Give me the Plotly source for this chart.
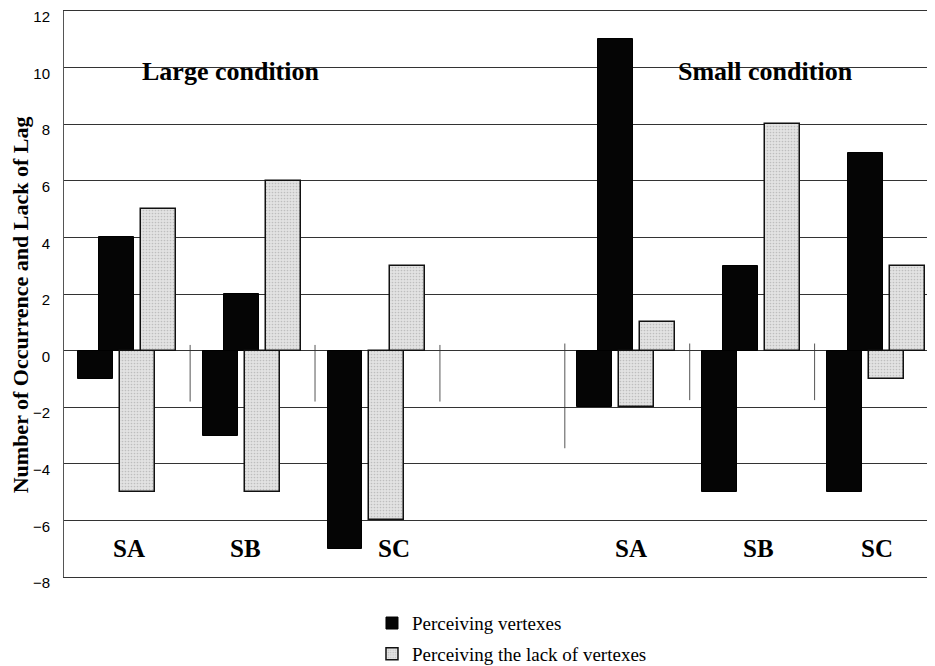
import plotly.graph_objects as go

# ---- data ----
conditions = ["Large condition", "Small condition"]
subjects = ["SA", "SB", "SC", "SA", "SB", "SC"]
group_condition = ["Large", "Large", "Large", "Small", "Small", "Small"]
vertex_neg = [-1, -3, -7, -2, -5, -5]
vertex_pos = [4, 2, 0, 11, 3, 7]
lack_neg = [-5, -5, -6, -2, 0, -1]
lack_pos = [5, 6, 3, 1, 8, 3]
y_ticks = [-8, -6, -4, -2, 0, 2, 4, 6, 8, 10, 12]
legend_names = ["Perceiving vertexes", "Perceiving the lack of vertexes"]

# ---- layout helpers ----
# group slot index (a blank slot separates the two conditions)
slots = []
for i, c in enumerate(group_condition):
    base = i if c == "Large" else i + 1
    slots.append(base)

STEP = 0.168   # offset between the overlapping bars
W = 0.28       # bar width


def bar_xy(neg, pos, first_off):
    xs, ys = [], []
    for k in range(len(slots)):
        if neg[k] != 0:
            xs.append(slots[k] + first_off + W / 2)
            ys.append(neg[k])
        if pos[k] != 0:
            xs.append(slots[k] + first_off + STEP + W / 2)
            ys.append(pos[k])
    return xs, ys


fig = go.Figure()

bx, by = bar_xy(vertex_neg, vertex_pos, 0.0)
fig.add_trace(go.Bar(
    x=bx, y=by, width=W, name=legend_names[0], legendgroup="a",
    marker=dict(color="#050505", line=dict(color="#000000", width=1)),
))
gx, gy = bar_xy(lack_neg, lack_pos, 2 * STEP)
fig.add_trace(go.Bar(
    x=gx, y=gy, width=W, name=legend_names[1], legendgroup="b",
    marker=dict(
        color="#dcdcdc",
        line=dict(color="#111111", width=1.5),
        pattern=dict(shape=".", fgcolor="#9a9a9a", bgcolor="#e2e2e2", size=3, solidity=0.25),
    ),
))

# separator marks between groups
sep_extent = [(0.2, -1.8), (0.2, -1.8), (0.2, -1.8), (0.25, -3.45), (0.25, -1.75), (0.25, -1.75)]
for j, (y0, y1) in enumerate(sep_extent):
    xs = j + 0.9
    fig.add_shape(type="line", xref="x", yref="y", x0=xs, x1=xs, y0=y0, y1=y1,
                  line=dict(color="#555555", width=1), layer="below")

# subject labels
label_dx = [2, -6, 18, 5, 7, 1]
for k, s in enumerate(subjects):
    fig.add_annotation(
        x=slots[k] + (3 * STEP + W) / 2, y=-7.0, xref="x", yref="y",
        text="<b>%s</b>" % s, showarrow=False, xshift=label_dx[k],
        font=dict(family="Liberation Serif", size=25, color="#000000"),
    )

# condition titles
cond_x = [1.223, 5.509]
for c, cx in zip(conditions, cond_x):
    fig.add_annotation(
        x=cx, y=9.85, xref="x", yref="y", text="<b>%s</b>" % c, showarrow=False,
        font=dict(family="Liberation Serif", size=26, color="#000000"),
    )

# y axis title
fig.add_annotation(
    x=0, y=1.6, xref="paper", yref="y", xshift=-44, textangle=-90,
    xanchor="center", yanchor="middle",
    text="<b>Number of Occurrence and Lack of Lag</b>", showarrow=False,
    font=dict(family="Liberation Serif", size=22, color="#000000"),
)

fig.update_layout(
    width=927, height=658,
    margin=dict(l=56, r=0, t=3, b=89, autoexpand=False),
    paper_bgcolor="white", plot_bgcolor="white",
    barmode="overlay", bargap=0,
    showlegend=True,
    legend=dict(
        x=0.3536, y=-0.048, xanchor="left", yanchor="top",
        font=dict(family="Liberation Serif", size=19, color="#000000"),
        tracegroupgap=3, bgcolor="rgba(0,0,0,0)",
    ),
    xaxis=dict(range=[-0.11, 6.864], showgrid=False, zeroline=False,
               showticklabels=False, ticks="", showline=True, mirror=True,
               linecolor="#333333", linewidth=1, fixedrange=True),
    yaxis=dict(range=[-8, 12], tickvals=y_ticks,
               ticktext=[("\u2212%d" % -v) if v < 0 else str(v) for v in y_ticks],
               showgrid=True, gridcolor="#333333", gridwidth=1,
               zeroline=True, zerolinecolor="#333333", zerolinewidth=1,
               showline=True, linecolor="#555555", linewidth=1,
               ticks="", ticklabelstandoff=10, ticklabelshift=6,
               ticklabeloverflow="allow",
               tickfont=dict(family="Liberation Sans", size=15, color="#000000")),
)

fig.write_html("out.html")
